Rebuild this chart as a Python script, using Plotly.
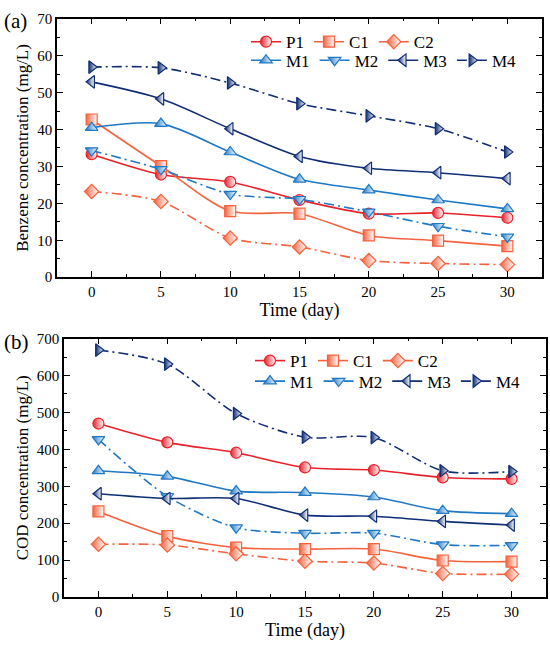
import plotly.graph_objects as go

# -------------------------------------------------------------------------
# Data
# -------------------------------------------------------------------------
days = [0, 5, 10, 15, 20, 25, 30]
series_names = ["P1", "C1", "C2", "M1", "M2", "M3", "M4"]

# (a) benzene concentration, mg/L
benzene_p1 = [33.3, 27.8, 25.8, 20.9, 17.2, 17.4, 16.1]
benzene_c1 = [42.7, 30.1, 17.9, 17.2, 11.3, 9.9, 8.4]
benzene_c2 = [23.2, 20.5, 10.6, 8.2, 4.5, 3.7, 3.4]
benzene_m1 = [40.5, 41.6, 33.9, 26.5, 23.6, 20.9, 18.5]
benzene_m2 = [34.3, 29.2, 22.5, 21.1, 17.7, 13.8, 10.9]
benzene_m3 = [52.9, 48.3, 40.2, 32.7, 29.5, 28.3, 26.7]
benzene_m4 = [56.9, 56.7, 52.6, 47.0, 43.7, 40.2, 33.9]

# (b) COD concentration, mg/L
cod_p1 = [470, 419, 391, 351, 344, 324, 320]
cod_c1 = [232, 165, 134, 130, 130, 99, 96]
cod_c2 = [143, 141, 117, 97, 92, 64, 62]
cod_m1 = [342, 327, 287, 283, 271, 234, 226]
cod_m2 = [427, 273, 188, 173, 173, 142, 140]
cod_m3 = [280, 267, 267, 222, 219, 205, 195]
cod_m4 = [669, 631, 497, 433, 432, 342, 340]

x_ticks = [0, 5, 10, 15, 20, 25, 30]
benzene_ticks = [0, 10, 20, 30, 40, 50, 60, 70]
cod_ticks = [0, 100, 200, 300, 400, 500, 600, 700]

# -------------------------------------------------------------------------
# Styles
# -------------------------------------------------------------------------
RED = "#e8212b"
ORANGE = "#f5623d"
BLUE = "#1f78c4"
NAVY = "#102e74"
DASHDOT = "10px,4px,2px,4px"
FONT = "Liberation Serif"

styles = {
    "P1": (RED, "circle", "solid"),
    "C1": (ORANGE, "square", "solid"),
    "C2": (ORANGE, "diamond", DASHDOT),
    "M1": (BLUE, "triangle-up", "solid"),
    "M2": (BLUE, "triangle-down", DASHDOT),
    "M3": (NAVY, "triangle-left", "solid"),
    "M4": (NAVY, "triangle-right", DASHDOT),
}

benzene = [benzene_p1, benzene_c1, benzene_c2, benzene_m1,
           benzene_m2, benzene_m3, benzene_m4]
cod = [cod_p1, cod_c1, cod_c2, cod_m1, cod_m2, cod_m3, cod_m4]

fig = go.Figure()


def add_panel(values, xref, yref, legend_a, legend_b):
    for name, y in zip(series_names, values):
        color, symbol, dash = styles[name]
        fig.add_trace(
            go.Scatter(
                x=days,
                y=y,
                name=name,
                mode="lines+markers",
                xaxis=xref,
                yaxis=yref,
                legend=legend_a if name in ("P1", "C1", "C2") else legend_b,
                line=dict(color=color, width=1.6, dash=dash,
                          shape="spline", smoothing=0.8),
                # half-filled look: colour fades to white on the right side
                marker=dict(
                    symbol=symbol,
                    size=11,
                    color=color,
                    line=dict(color=color, width=1.2),
                    gradient=dict(type="horizontal", color="white"),
                ),
            )
        )


add_panel(benzene, "x", "y", "legend", "legend2")
add_panel(cod, "x2", "y2", "legend3", "legend4")

axis_common = dict(
    showline=True,
    linecolor="black",
    linewidth=1.5,
    mirror="ticks",
    ticks="inside",
    ticklen=6,
    tickwidth=1.2,
    tickcolor="black",
    showgrid=False,
    zeroline=False,
    tickfont=dict(family=FONT, size=15, color="black"),
)

x_common = dict(
    axis_common,
    range=[-2.5, 32.5],
    tickvals=x_ticks,
    minor=dict(ticks="inside", ticklen=3, tickwidth=1.2, tickcolor="black",
               dtick=2.5, tick0=0),
    title=dict(text="Time (day)", font=dict(family=FONT, size=18, color="black"),
               standoff=0),
)

legend_common = dict(
    orientation="h",
    xanchor="left",
    yanchor="middle",
    bgcolor="rgba(0,0,0,0)",
    font=dict(family=FONT, size=17, color="black"),
    itemwidth=30,
)

fig.update_layout(
    width=550,
    height=647,
    margin=dict(l=0, r=0, t=0, b=0),
    paper_bgcolor="white",
    plot_bgcolor="white",
    font=dict(family=FONT, color="black"),
    xaxis=dict(x_common, domain=[57 / 550, 542 / 550], anchor="y"),
    yaxis=dict(
        axis_common,
        domain=[(647 - 276) / 647, (647 - 11) / 647],
        anchor="x",
        range=[0, 70],
        tickvals=benzene_ticks,
        minor=dict(ticks="inside", ticklen=3, tickwidth=1.2, tickcolor="black",
                   dtick=5, tick0=0),
        title=dict(text="Benzene concentration (mg/L)",
                   font=dict(family=FONT, size=17, color="black"), standoff=4),
    ),
    xaxis2=dict(x_common, domain=[64 / 550, 546 / 550], anchor="y2"),
    yaxis2=dict(
        axis_common,
        domain=[(647 - 604) / 647, (647 - 339) / 647],
        anchor="x2",
        range=[0, 700],
        tickvals=cod_ticks,
        minor=dict(ticks="inside", ticklen=3, tickwidth=1.2, tickcolor="black",
                   dtick=50, tick0=0),
        title=dict(text="COD concentration (mg/L)",
                   font=dict(family=FONT, size=17, color="black"), standoff=4),
    ),
    legend=dict(legend_common, x=246 / 550, y=(647 - 35) / 647),
    legend2=dict(legend_common, x=246 / 550, y=(647 - 54) / 647),
    legend3=dict(legend_common, x=250 / 550, y=(647 - 362) / 647),
    legend4=dict(legend_common, x=250 / 550, y=(647 - 383) / 647),
    annotations=[
        dict(text="(a)", x=2 / 550, y=(647 - 13) / 647, xref="paper", yref="paper",
             xanchor="left", yanchor="middle", showarrow=False,
             font=dict(family=FONT, size=21, color="black")),
        dict(text="(b)", x=2 / 550, y=(647 - 342) / 647, xref="paper", yref="paper",
             xanchor="left", yanchor="middle", showarrow=False,
             font=dict(family=FONT, size=21, color="black")),
    ],
)

fig.write_html(
    "out.html",
    config={"displayModeBar": False},
    post_script="document.body.style.margin='0';",
)
